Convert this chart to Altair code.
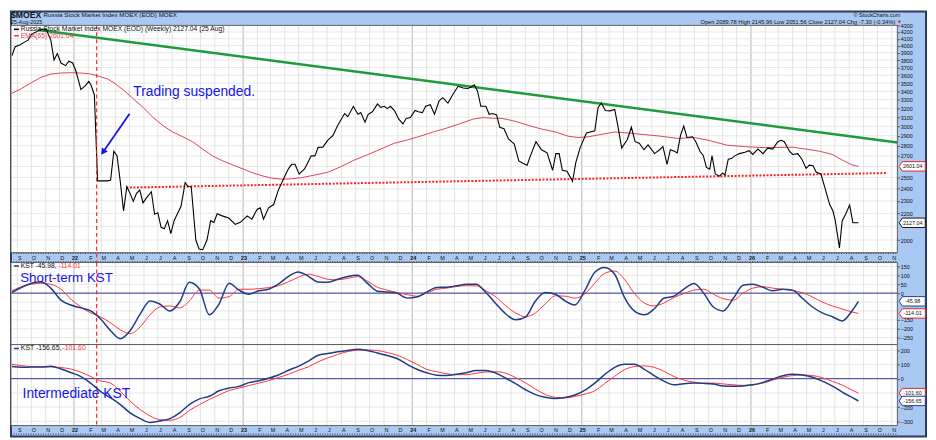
import altair as alt
import pandas as pd

# ---------------- layout (pixels) ----------------
W = 897
H_MAIN = 230
BAND = 10
H_ST = 83
H_IT = 82

FONT = "Liberation Sans"
NARROW = "Liberation Sans Narrow, Liberation Sans"
BG = "#a9c9f3"
NAVY = "#1f3c88"
SIG = "#ff3535"
EMA_C = "#dd4257"
NOTE = "#1414ee"

# ---------------- data ----------------
price_dates = [
    "2021-08-20", "2021-08-27", "2021-09-06", "2021-09-17", "2021-09-24", "2021-10-01",
    "2021-10-11", "2021-10-18", "2021-10-25", "2021-11-02", "2021-11-12", "2021-11-19",
    "2021-11-26", "2021-12-04", "2021-12-14", "2021-12-21", "2021-12-29", "2022-01-05",
    "2022-01-16", "2022-01-26", "2022-02-02", "2022-02-07", "2022-02-14", "2022-02-21",
    "2022-02-28", "2022-03-07", "2022-03-14", "2022-03-21", "2022-03-28", "2022-04-04",
    "2022-04-11", "2022-04-18", "2022-04-25", "2022-05-02", "2022-05-09", "2022-05-16",
    "2022-05-23", "2022-05-30", "2022-06-06", "2022-06-17", "2022-06-24", "2022-07-01",
    "2022-07-08", "2022-07-15", "2022-07-22", "2022-07-29", "2022-08-05", "2022-08-20",
    "2022-08-29", "2022-09-04", "2022-09-11", "2022-09-21", "2022-09-28", "2022-10-06",
    "2022-10-15", "2022-10-23", "2022-10-30", "2022-11-06", "2022-11-17", "2022-12-01",
    "2022-12-15", "2022-12-26", "2023-01-10", "2023-01-20", "2023-01-31", "2023-02-07",
    "2023-02-14", "2023-02-25", "2023-03-08", "2023-03-18", "2023-04-02", "2023-04-09",
    "2023-04-16", "2023-04-23", "2023-05-02", "2023-05-14", "2023-05-28", "2023-06-05",
    "2023-06-12", "2023-06-22", "2023-07-03", "2023-07-14", "2023-07-24", "2023-08-08",
    "2023-08-15", "2023-08-27", "2023-09-01", "2023-09-06", "2023-09-12", "2023-09-21",
    "2023-09-28", "2023-10-07", "2023-10-18", "2023-10-25", "2023-11-02", "2023-11-08",
    "2023-11-15", "2023-11-24", "2023-12-03", "2023-12-12", "2023-12-19", "2023-12-28",
    "2024-01-07", "2024-01-14", "2024-01-23", "2024-01-30", "2024-02-09", "2024-02-18",
    "2024-02-28", "2024-03-07", "2024-03-18", "2024-03-28", "2024-04-09", "2024-04-20",
    "2024-04-30", "2024-05-07", "2024-05-14", "2024-05-21", "2024-05-28", "2024-06-08",
    "2024-06-15", "2024-06-22", "2024-07-01", "2024-07-08", "2024-07-17", "2024-07-27",
    "2024-08-08", "2024-08-18", "2024-08-27", "2024-09-05", "2024-09-12", "2024-09-24",
    "2024-10-06", "2024-10-18", "2024-10-30", "2024-11-06", "2024-11-13", "2024-11-20",
    "2024-11-30", "2024-12-12", "2024-12-19", "2024-12-28", "2025-01-11", "2025-01-29",
    "2025-02-05", "2025-02-12", "2025-02-21", "2025-03-03", "2025-03-13", "2025-03-19",
    "2025-03-28", "2025-04-09", "2025-04-18", "2025-04-26", "2025-05-05", "2025-05-15",
    "2025-05-24", "2025-06-07", "2025-06-18", "2025-06-25", "2025-07-04", "2025-07-11",
    "2025-07-20", "2025-07-26", "2025-08-02", "2025-08-09", "2025-08-16", "2025-08-28",
    "2025-09-04", "2025-09-13", "2025-09-20", "2025-09-27", "2025-10-04", "2025-10-09",
    "2025-10-16", "2025-10-25", "2025-11-01", "2025-11-06", "2025-11-13", "2025-11-20",
    "2025-11-27", "2025-12-07", "2025-12-19", "2025-12-28", "2026-01-05", "2026-01-16",
    "2026-01-27", "2026-02-06", "2026-02-17", "2026-02-28", "2026-03-07", "2026-03-14",
    "2026-03-25", "2026-04-01", "2026-04-12", "2026-04-21", "2026-04-30", "2026-05-07",
    "2026-05-15", "2026-05-22", "2026-06-01", "2026-06-08", "2026-06-20", "2026-06-27",
    "2026-07-02", "2026-07-11", "2026-07-17", "2026-07-24", "2026-08-02", "2026-08-09",
    "2026-08-21",
]
price_values = [
    3860, 3985, 4010, 4054, 4080, 4164,
    4198, 4225, 4245, 4240, 4080, 3800,
    3890, 3760, 3725, 3785, 3760, 3657,
    3420, 3473, 3520, 3473, 3355, 2470,
    2470, 2470, 2470, 2475, 2745, 2700,
    2461, 2218, 2419, 2362, 2296, 2362,
    2390, 2283, 2322, 2376, 2193, 2205,
    2093, 2082, 2143, 2047, 2143, 2256,
    2455, 2420, 2419, 2000, 1937, 1932,
    2000, 2143, 2130, 2197, 2180, 2163,
    2115, 2130, 2180, 2155, 2230, 2243,
    2155, 2243, 2270, 2390, 2520, 2580,
    2620, 2620, 2530, 2580, 2700, 2700,
    2783, 2785, 2855, 2905, 3010, 3140,
    3105, 3222, 3175, 3132, 3150, 3045,
    3132, 3160, 3250, 3210, 3222, 3195,
    3222, 3170, 3078, 3026, 3085, 3095,
    3175, 3160, 3150, 3222, 3241, 3132,
    3286, 3323, 3260, 3355, 3460, 3440,
    3433, 3452, 3480, 3400, 3222, 3222,
    3132, 3140, 3125, 2990, 2974, 2865,
    2818, 2652, 2630, 2612, 2700, 2840,
    2760, 2729, 2565, 2722, 2722, 2565,
    2556, 2466, 2636, 2776, 2930, 2952,
    3205, 3260, 3175, 3170, 3186, 3026,
    2776, 2860, 2990, 2840, 2824, 2760,
    2808, 2722, 2760, 2792, 2620, 2760,
    2745, 2729, 2905, 3002, 2883, 2890,
    2840, 2745, 2704, 2591, 2575, 2700,
    2532, 2512, 2541, 2520, 2668, 2674,
    2700, 2722, 2735, 2750, 2714, 2766,
    2722, 2776, 2766, 2840, 2855, 2840,
    2745, 2714, 2722, 2668, 2582, 2612,
    2606, 2547, 2532, 2432, 2270, 2218,
    2143, 1945, 2143, 2190, 2265, 2128,
    2127.04,
]

ema_dates = [
    "2021-08-20", "2021-09-10", "2021-10-01", "2021-10-22", "2021-11-12", "2021-12-03",
    "2021-12-25", "2022-01-16", "2022-02-06", "2022-02-20", "2022-03-14", "2022-03-31",
    "2022-04-18", "2022-05-09", "2022-05-31", "2022-06-21", "2022-07-12", "2022-08-02",
    "2022-08-24", "2022-09-14", "2022-10-06", "2022-10-27", "2022-11-17", "2022-12-09",
    "2022-12-30", "2023-01-20", "2023-02-11", "2023-03-04", "2023-03-25", "2023-04-16",
    "2023-05-07", "2023-06-05", "2023-07-03", "2023-08-01", "2023-08-29", "2023-09-27",
    "2023-10-25", "2023-11-23", "2023-12-21", "2024-01-18", "2024-02-15", "2024-03-15",
    "2024-04-12", "2024-05-11", "2024-06-01", "2024-06-22", "2024-07-14", "2024-08-11",
    "2024-09-09", "2024-10-07", "2024-11-05", "2024-12-03", "2024-12-24", "2025-01-15",
    "2025-02-12", "2025-03-13", "2025-04-10", "2025-05-16", "2025-06-21", "2025-07-27",
    "2025-09-01", "2025-10-05", "2025-11-10", "2025-12-15", "2026-01-20", "2026-02-24",
    "2026-04-01", "2026-04-30", "2026-05-29", "2026-06-26", "2026-07-17", "2026-08-07",
    "2026-08-21",
]
ema_values = [
    3375, 3433, 3505, 3573, 3615, 3628,
    3632, 3628, 3615, 3594, 3553, 3493,
    3413, 3310, 3205, 3095, 3008, 2940,
    2890, 2840, 2766, 2700, 2654, 2615,
    2580, 2544, 2515, 2494, 2485, 2488,
    2498, 2522, 2547, 2600, 2660, 2712,
    2766, 2824, 2857, 2896, 2940, 2981,
    3026, 3078, 3095, 3088, 3085, 3054,
    3008, 2970, 2940, 2896, 2883, 2890,
    2915, 2940, 2930, 2913, 2896, 2873,
    2883, 2850, 2805, 2792, 2782, 2782,
    2785, 2766, 2745, 2714, 2660, 2615,
    2601.04,
]

kst_dates = [
    "2021-08-20", "2021-09-10", "2021-10-01", "2021-10-22", "2021-11-12", "2021-12-04",
    "2021-12-25", "2022-01-16", "2022-02-06", "2022-02-27", "2022-03-21", "2022-04-11",
    "2022-05-02", "2022-05-24", "2022-06-14", "2022-07-05", "2022-07-27", "2022-08-17",
    "2022-09-07", "2022-09-29", "2022-10-20", "2022-11-10", "2022-12-02", "2022-12-23",
    "2023-01-13", "2023-02-04", "2023-02-25", "2023-03-18", "2023-04-09", "2023-04-30",
    "2023-05-21", "2023-06-12", "2023-07-03", "2023-07-24", "2023-08-15", "2023-09-05",
    "2023-09-26", "2023-10-18", "2023-11-08", "2023-11-29", "2023-12-21", "2024-01-11",
    "2024-02-01", "2024-02-23", "2024-03-15", "2024-04-05", "2024-04-27", "2024-05-18",
    "2024-06-08", "2024-06-30", "2024-07-21", "2024-08-11", "2024-09-02", "2024-09-23",
    "2024-10-14", "2024-11-05", "2024-11-26", "2024-12-17", "2025-01-08", "2025-01-29",
    "2025-02-19", "2025-03-13", "2025-04-03", "2025-04-24", "2025-05-16", "2025-06-06",
    "2025-06-27", "2025-07-19", "2025-08-09", "2025-08-31", "2025-09-21", "2025-10-12",
    "2025-11-02", "2025-11-24", "2025-12-15", "2026-01-05", "2026-01-27", "2026-02-17",
    "2026-03-11", "2026-04-01", "2026-04-22", "2026-05-14", "2026-06-04", "2026-06-26",
    "2026-07-17", "2026-08-07", "2026-08-21",
]
st_kst_values = [
    4, 33, 56, 63, 28, -39, -67, -83, -100, -144, -211, -256, -211, -117, -44, -61,
    -100, -50, 61, 22, -122, -61, 56, 17, -6, 13, 22, 50, 94, 119, 96, 63, 61, 78,
    94, 100, 56, 11, 6, 0, -28, -22, 6, 32, 33, 41, 50, 50, 4, -61, -117, -150, -133,
    -44, 3, -6, -44, -67, 17, 117, 144, 106, -24, -100, -122, -89, -29, -17, 22, 54,
    0, -78, -100, -29, 44, 50, 33, 13, 22, 17, -29, -78, -111, -133, -156, -100, -45.98,
]
st_signal_values = [
    13, 36, 50, 56, 50, 22, -33, -78, -111, -133, -167, -206, -228, -189, -122, -78,
    -72, -83, -44, 17, 17, -28, -19, 22, 22, 25, 31, 41, 64, 89, 106, 94, 78, 75, 83,
    93, 68, 33, 17, 4, -8, -17, 0, 22, 28, 37, 42, 41, 14, -22, -72, -111, -133, -111,
    -61, -15, -17, -28, -3, 56, 111, 124, 78, 0, -56, -72, -56, -24, -3, 17, 22, -6,
    -31, -39, 0, 28, 36, 28, 22, 14, 3, -22, -50, -72, -89, -106, -114.01,
]
it_kst_values = [
    85, 80, 82, 82, 87, 68, 43, 15, -31, -89, -135, -182, -240, -281, -309, -297, -281,
    -240, -182, -142, -124, -85, -66, -54, -28, -14, 3, 26, 59, 87, 122, 165, 177, 189,
    198, 207, 198, 181, 163, 142, 101, 66, 42, 24, 22, 31, 42, 57, 57, 38, 3, -35, -78,
    -112, -131, -140, -132, -115, -80, -31, 28, 80, 101, 101, 66, 21, -17, -43, -35,
    -31, -33, -38, -51, -54, -51, -43, -26, -3, 21, 31, 26, 10, -17, -52, -94, -132,
    -156.65,
]
it_signal_values = [
    101, 92, 85, 83, 83, 78, 68, 45, 15, -15, -31, -89, -158, -217, -262, -288, -293,
    -274, -224, -182, -146, -115, -83, -66, -49, -31, -14, 8, 31, 59, 82, 119, 146,
    170, 191, 200, 202, 198, 184, 165, 135, 101, 66, 49, 35, 28, 28, 38, 47, 49, 38, 8,
    -31, -73, -111, -131, -135, -125, -108, -85, -35, 17, 63, 85, 90, 80, 52, 15, -10,
    -24, -31, -31, -37, -43, -47, -43, -31, -10, 10, 22, 26, 22, 7, -19, -45, -80,
    -101.60,
]

# trend lines and annotations (data coordinates)
resistance_dates = ["2021-10-16", "2026-11-13"]
resistance_values = [4230, 2832]
support_dates = ["2022-04-24", "2026-10-23"]
support_values = [2411, 2540]
suspension_date = "2022-02-19"
arrow_dates = ["2022-05-01", "2022-03-06"]
arrow_values = [3139, 2745]

# axis ticks and labels
main_grid = list(range(2000, 4301, 100))
main_axis_values = [2000, 2200, 2300, 2400, 2500, 2700, 2800, 2900, 3000, 3100, 3200,
                    3300, 3400, 3500, 3600, 3700, 3800, 3900, 4000, 4100, 4200, 4300]
st_grid = list(range(-250, 151, 50))
st_axis_values = [150, 100, 50, 0, -150, -200, -250]
it_grid = list(range(-300, 201, 100))
it_axis_values = [200, 100, 0, -200, -300]

month_starts = pd.date_range("2021-09-01", "2026-11-01", freq="MS")
month_letters = "JFMAMJJASOND"
month_df = pd.DataFrame({
    "d": month_starts.strftime("%Y-%m-%d"),
    "t": [f"{m.year % 100:02d}" if m.month == 1 else month_letters[m.month - 1]
          for m in month_starts],
    "yr": [bool(m.month == 1) for m in month_starts],
})

header_title = "Russia Stock Market Index MOEX (EOD) MOEX"
header_date = "25-Aug-2025"
header_ohlc = "Open 2089.78  High 2145.96  Low 2051.56  Close 2127.04  Chg -7.30 (-0.34%)"
legend_price = "Russia Stock Market Index MOEX (EOD) (Weekly) 2127.04 (25 Aug)"
legend_ema = "EMA(65) 2601.04"

# ---------------- helpers ----------------
dummy = pd.DataFrame({"z": [0]})

x_scale = alt.Scale(domain=[alt.DateTime(year=2021, month=8, date=18),
                            alt.DateTime(year=2026, month=11, date=13)])
X = alt.X("d:T", scale=x_scale, axis=None)


def axis(values):
    return alt.Axis(orient="right", values=values, format="d", title="", grid=False,
                    domain=False, tickSize=2, tickColor="#333", tickWidth=0.8,
                    labelFont=FONT, labelFontSize=5.5, labelColor="#111",
                    labelPadding=1, zindex=1)


Y_MAIN = alt.Y("v:Q", scale=alt.Scale(type="log", domain=[1912, 4300],
                                      range=[H_MAIN, 0], nice=False),
               axis=axis(main_axis_values))
Y_ST = alt.Y("v:Q", scale=alt.Scale(domain=[-289, 172], range=[H_ST, 0],
                                    nice=False, zero=False),
             axis=axis(st_axis_values))
Y_IT = alt.Y("v:Q", scale=alt.Scale(domain=[-330, 240], range=[H_IT, 0],
                                    nice=False, zero=False),
             axis=axis(it_axis_values))


def fixed_rect(x1, x2, y1, y2, **kw):
    return alt.Chart(dummy).mark_rect(**kw).encode(
        x=alt.value(x1), x2=alt.value(x2), y=alt.value(y1), y2=alt.value(y2))


def fixed_hrule(x1, x2, y, **kw):
    return alt.Chart(dummy).mark_rule(**kw).encode(
        x=alt.value(x1), x2=alt.value(x2), y=alt.value(y))


def fixed_text(txt, x, y, size, color="#111", align="left", weight="normal"):
    return alt.Chart(pd.DataFrame({"t": [txt]})).mark_text(
        font=FONT, fontSize=size, color=color, align=align, baseline="middle",
        fontWeight=weight).encode(x=alt.value(x), y=alt.value(y), text="t:N")


def month_rules(h):
    minor = alt.Chart(month_df).transform_filter("!datum.yr").mark_rule(
        color="#dcdcdc", strokeWidth=0.8).encode(x=X, y=alt.value(0), y2=alt.value(h))
    major = alt.Chart(month_df).transform_filter("datum.yr").mark_rule(
        color="#a3a3a3", strokeWidth=0.8).encode(x=X, y=alt.value(0), y2=alt.value(h))
    return [minor, major]


def month_labels(y):
    letters = alt.Chart(month_df).transform_filter("!datum.yr").mark_text(
        font=FONT, fontSize=5.5, color="#111", dx=2.5, baseline="middle").encode(
        x=X, y=alt.value(y), text="t:N")
    years = alt.Chart(month_df).transform_filter("datum.yr").mark_text(
        font=FONT, fontSize=5.5, color="#111", dx=1, baseline="middle",
        fontWeight="bold").encode(x=X, y=alt.value(y), text="t:N")
    return [letters, years]


def hgrid(vals, yspec):
    return alt.Chart(pd.DataFrame({"v": vals})).mark_rule(
        color="#e2e2e2", strokeWidth=0.8).encode(y=yspec, x=alt.value(0), x2=alt.value(W))


def zero_line(yspec):
    return alt.Chart(pd.DataFrame({"v": [0]})).mark_rule(
        color="#33339a", strokeWidth=1).encode(y=yspec, x=alt.value(0), x2=alt.value(W))


def suspension(h):
    return alt.Chart(pd.DataFrame({"d": [suspension_date]})).mark_rule(
        color="#ff2020", strokeWidth=1.2, strokeDash=[4, 3]).encode(
        x=X, y=alt.value(0), y2=alt.value(h))


BOX = "M-1,0L-0.75,-0.36L1,-0.36L1,0.36L-0.75,0.36Z"


def value_box(val, label, color, yspec):
    df = pd.DataFrame({"v": [val], "t": [label]})
    box = alt.Chart(df).mark_point(shape=BOX, size=700, filled=True, fill="white",
                                   stroke=color, strokeWidth=1, opacity=1).encode(
        x=alt.value(W + 15), y=yspec)
    txt = alt.Chart(df).mark_text(font=FONT, fontSize=5.5, color="#111",
                                  align="center", baseline="middle").encode(
        x=alt.value(W + 15.5), y=yspec, text="t:N")
    return [box, txt]


def border(h):
    return fixed_rect(0, W, 0, h, fill="white", fillOpacity=0, stroke="#5c5c5c",
                      strokeWidth=1)


# ---------------- main price panel ----------------
price_df = pd.DataFrame({"d": price_dates, "v": price_values})
ema_df = pd.DataFrame({"d": ema_dates, "v": ema_values})
res_df = pd.DataFrame({"d": resistance_dates, "v": resistance_values})
sup_df = pd.DataFrame({"d": support_dates, "v": support_values})
arrow_df = pd.DataFrame({"d": arrow_dates, "v": arrow_values})
note_df = pd.DataFrame({"d": ["2022-05-09"], "v": [3392], "t": ["Trading suspended."]})

total_h = H_MAIN + BAND + H_ST + H_IT + 11

main_layers = [
    fixed_rect(0, W + 29, -14, total_h, fill=BG, stroke="#2f3b5c", strokeWidth=2),
    fixed_rect(0, W, 0, H_MAIN, fill="white"),
    *month_rules(H_MAIN),
    hgrid(main_grid, Y_MAIN),
    *month_labels(H_MAIN + 5),
    fixed_hrule(0, W, H_MAIN + 0.8, color="#333", strokeDash=[1, 1.5]),
    fixed_hrule(0, W, H_MAIN + BAND - 0.8, color="#333", strokeDash=[1, 1.5]),
    alt.Chart(sup_df).mark_line(color="#ff1f1f", strokeWidth=2, strokeDash=[2, 1.6]).encode(
        x=X, y=Y_MAIN),
    alt.Chart(res_df).mark_line(color="#1e9b3c", strokeWidth=2.4).encode(x=X, y=Y_MAIN),
    alt.Chart(ema_df).mark_line(color=EMA_C, strokeWidth=1).encode(x=X, y=Y_MAIN),
    alt.Chart(price_df).mark_line(color="black", strokeWidth=1.1).encode(x=X, y=Y_MAIN),
    suspension(H_MAIN + BAND),
    alt.Chart(arrow_df).mark_line(color=NOTE, strokeWidth=1.8).encode(x=X, y=Y_MAIN),
    alt.Chart(arrow_df.iloc[[1]]).mark_point(shape="triangle", size=55, filled=True,
                                             color=NOTE, opacity=1, angle=214).encode(
        x=X, y=Y_MAIN),
    alt.Chart(note_df).mark_text(font=NARROW, fontSize=14, color=NOTE, align="left",
                                 baseline="middle").encode(x=X, y=Y_MAIN, text="t:N"),
    fixed_hrule(3, 8, 4, color="black", strokeWidth=1.5),
    fixed_text(legend_price, 10, 4, 6.8),
    fixed_hrule(3, 8, 10.5, color=EMA_C, strokeWidth=1.5),
    fixed_text(legend_ema, 10, 10.5, 6.8, color=EMA_C),
    fixed_text("$MOEX", 0, -10, 8.8, weight="bold"),
    fixed_text(header_title, 33, -10, 6.3),
    fixed_text(header_date, 0, -3.3, 5.5),
    fixed_text("\u00a9 StockCharts.com", 900, -10, 5.5, align="right"),
    fixed_text(header_ohlc, 895, -3.3, 5.8, align="right"),
    alt.Chart(dummy).mark_point(shape="triangle-down", size=10, filled=True,
                                color="#e01010", opacity=1).encode(
        x=alt.value(899), y=alt.value(-3.3)),
    border(H_MAIN),
    *value_box(2601.04, "2601.04", "#e02828", Y_MAIN),
    *value_box(2127.04, "2127.04", "#111111", Y_MAIN),
]
main = alt.layer(*main_layers).properties(width=W, height=H_MAIN + BAND)

# ---------------- short-term KST panel ----------------
st_df = pd.DataFrame({"d": kst_dates, "v": st_kst_values})
st_sig_df = pd.DataFrame({"d": kst_dates, "v": st_signal_values})
st_note = pd.DataFrame({"d": ["2021-09-07"], "v": [84], "t": ["Short-term KST"]})

st_layers = [
    fixed_rect(0, W, 0, H_ST, fill="white"),
    *month_rules(H_ST),
    hgrid(st_grid, Y_ST),
    zero_line(Y_ST),
    suspension(H_ST),
    alt.Chart(st_sig_df).mark_line(color=SIG, strokeWidth=1, interpolate="monotone").encode(
        x=X, y=Y_ST),
    alt.Chart(st_df).mark_line(color=NAVY, strokeWidth=1.5, interpolate="monotone").encode(
        x=X, y=Y_ST),
    fixed_hrule(3, 8, 3.5, color=NAVY, strokeWidth=1.5),
    fixed_text("KST -45.98,", 10, 3.5, 6.8),
    fixed_text("-114.01", 48, 3.5, 6.8, color=SIG),
    alt.Chart(st_note).mark_text(font=NARROW, fontSize=13.5, color=NOTE, align="left",
                                 baseline="middle").encode(x=X, y=Y_ST, text="t:N"),
    border(H_ST),
    *value_box(-45.98, "-45.98", NAVY, Y_ST),
    *value_box(-114.01, "-114.01", "#e02828", Y_ST),
]
st = alt.layer(*st_layers).properties(width=W, height=H_ST)

# ---------------- intermediate KST panel ----------------
it_df = pd.DataFrame({"d": kst_dates, "v": it_kst_values})
it_sig_df = pd.DataFrame({"d": kst_dates, "v": it_signal_values})
it_note = pd.DataFrame({"d": ["2021-09-12"], "v": [-108], "t": ["Intermediate KST"]})

it_layers = [
    fixed_rect(0, W, 0, H_IT, fill="white"),
    *month_rules(H_IT),
    hgrid(it_grid, Y_IT),
    zero_line(Y_IT),
    suspension(H_IT),
    *month_labels(H_IT + 4.5),
    fixed_hrule(0, W, H_IT + 8.6, color="#333", strokeDash=[1, 1.5]),
    alt.Chart(it_sig_df).mark_line(color=SIG, strokeWidth=1, interpolate="monotone").encode(
        x=X, y=Y_IT),
    alt.Chart(it_df).mark_line(color=NAVY, strokeWidth=1.5, interpolate="monotone").encode(
        x=X, y=Y_IT),
    fixed_hrule(3, 8, 4, color=NAVY, strokeWidth=1.5),
    fixed_text("KST -156.65,", 10, 4, 7),
    fixed_text("-101.60", 52, 4, 7, color=SIG),
    alt.Chart(it_note).mark_text(font=NARROW, fontSize=14, color=NOTE, align="left",
                                 baseline="middle").encode(x=X, y=Y_IT, text="t:N"),
    border(H_IT),
    *value_box(-101.60, "-101.60", "#e02828", Y_IT),
    *value_box(-156.65, "-156.65", NAVY, Y_IT),
]
it = alt.layer(*it_layers).properties(width=W, height=H_IT)

chart = alt.vconcat(main, st, it, spacing=0, bounds="flush", padding=0).configure_view(
    strokeWidth=0)

chart.save("out.html", embed_options={"renderer": "svg", "actions": False})
